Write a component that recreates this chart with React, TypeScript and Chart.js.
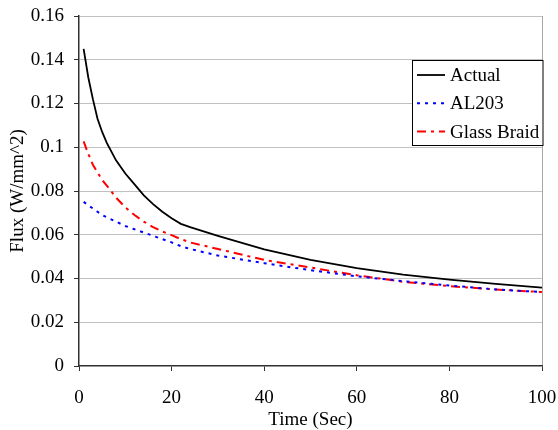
import React, { useEffect, useRef } from "react";
import { Chart, registerables } from "chart.js";

Chart.register(...registerables);

const times = [1, 2, 3, 4, 5, 6, 8, 10, 12, 14, 16, 18, 20, 22, 24, 30, 40, 50, 60, 70, 80, 90, 100];
const actual = [0.145, 0.132, 0.122, 0.113, 0.107, 0.102, 0.094, 0.088, 0.083, 0.078, 0.074, 0.0705, 0.0675, 0.065, 0.0635, 0.0595, 0.0533, 0.0485, 0.0447, 0.0418, 0.0395, 0.0375, 0.0358];
const al203 = [0.075, 0.0735, 0.072, 0.0705, 0.069, 0.068, 0.066, 0.064, 0.0625, 0.061, 0.0595, 0.058, 0.0565, 0.0548, 0.0535, 0.0505, 0.047, 0.0438, 0.041, 0.0388, 0.0368, 0.035, 0.0338];
const glassBraid = [0.1027, 0.097, 0.092, 0.0885, 0.085, 0.0825, 0.077, 0.0725, 0.069, 0.066, 0.0635, 0.0615, 0.0598, 0.058, 0.0565, 0.0535, 0.0485, 0.045, 0.0415, 0.0385, 0.0365, 0.035, 0.0338];
const seriesNames = ["Actual", "AL203", "Glass Braid"];
const xTitle = "Time (Sec)";
const yTitle = "Flux (W/mm^2)";

const FONT = "'Liberation Serif', 'Times New Roman', serif";
const FS = 19;

const legendBox = {
  id: "legendBox",
  afterDraw(chart: any) {
    const ctx = chart.ctx as CanvasRenderingContext2D;
    const area = chart.chartArea;
    const right = area.right + 1.5;
    const w = 131.5;
    const x0 = right - w;
    const y0 = area.top + 44;
    const h = 86;
    ctx.save();
    ctx.fillStyle = "#ffffff";
    ctx.fillRect(x0, y0, w, h);
    ctx.strokeStyle = "#000000";
    ctx.lineWidth = 1;
    ctx.setLineDash([]);
    ctx.strokeRect(x0 + 0.5, y0 + 0.5, w - 1, h - 1);
    ctx.font = `${FS}px ${FONT}`;
    ctx.textBaseline = "middle";
    ctx.textAlign = "left";
    chart.data.datasets.forEach((ds: any, i: number) => {
      const y = y0 + 15 + i * 28.3;
      ctx.strokeStyle = ds.borderColor;
      ctx.lineWidth = ds.borderWidth;
      ctx.setLineDash(ds.borderDash || []);
      ctx.beginPath();
      ctx.moveTo(x0 + 5, y);
      ctx.lineTo(x0 + 33, y);
      ctx.stroke();
      ctx.setLineDash([]);
      ctx.fillStyle = "#000000";
      ctx.fillText(ds.label, x0 + 38, y + 1);
    });
    ctx.restore();
  },
};

export default function App() {
  const ref = useRef<HTMLCanvasElement>(null);
  useEffect(() => {
    const mk = (vals: number[]) => times.map((t, i) => ({ x: t, y: vals[i] }));
    const chart = new Chart(ref.current!, {
      type: "line",
      data: {
        datasets: [
          { label: seriesNames[0], data: mk(actual), borderColor: "#000000", borderWidth: 1.8, pointRadius: 0, tension: 0 },
          { label: seriesNames[1], data: mk(al203), borderColor: "#0000ff", borderWidth: 2, borderDash: [3, 5], pointRadius: 0, tension: 0 },
          { label: seriesNames[2], data: mk(glassBraid), borderColor: "#ff0000", borderWidth: 2, borderDash: [9, 5, 3, 5], pointRadius: 0, tension: 0 },
        ],
      },
      options: {
        responsive: false,
        animation: false,
        layout: { padding: { top: 16, right: 16, left: 0, bottom: 0 } },
        plugins: { legend: { display: false }, tooltip: { enabled: false } },
        scales: {
          x: {
            type: "linear",
            min: 0,
            max: 100,
            afterFit: (s: any) => {
              s.height = 64;
              s.paddingLeft = 0;
              s.paddingRight = 0;
            },
            ticks: { stepSize: 20, color: "#000", font: { family: FONT, size: FS }, padding: 16, maxRotation: 0 },
            grid: {
              color: (c: any) => (c.tick && c.tick.value === 100 ? "#a8a8a8" : "rgba(0,0,0,0)"),
              tickColor: "#303030",
              tickLength: 5,
              lineWidth: 1,
            },
            border: { color: "#303030", width: 1.5 },
            title: { display: true, text: xTitle, color: "#000", font: { family: FONT, size: FS, lineHeight: 1.1 }, padding: { top: 0, bottom: 0 } },
          },
          y: {
            type: "linear",
            min: 0,
            max: 0.16,
            afterFit: (s: any) => {
              s.width = 79;
              s.paddingTop = 0;
              s.paddingBottom = 0;
            },
            ticks: {
              stepSize: 0.02,
              color: "#000",
              font: { family: FONT, size: FS },
              padding: 10,
              callback: (v: any) => String(+Number(v).toFixed(2)),
            },
            grid: {
              color: (c: any) => (c.tick && c.tick.value === 0 ? "rgba(0,0,0,0)" : "#c0c0c0"),
              tickColor: "#303030",
              tickLength: 5,
              lineWidth: 1,
            },
            border: { color: "#303030", width: 1.5 },
            title: { display: true, text: yTitle, color: "#000", font: { family: FONT, size: FS, lineHeight: 1.2 }, padding: { top: 7, bottom: 0 } },
          },
        },
      },
      plugins: [legendBox],
    });
    return () => chart.destroy();
  }, []);
  return (
    <div style={{ position: "fixed", left: 0, top: 0, width: 558, height: 430, background: "#fff" }}>
      <canvas ref={ref} width={558} height={430} />
    </div>
  );
}
